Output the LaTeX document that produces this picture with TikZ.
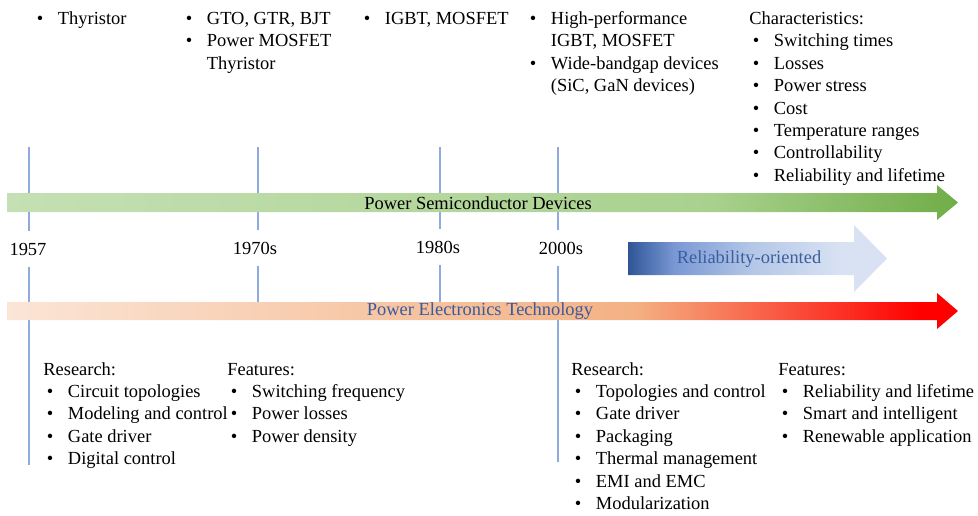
\documentclass[tikz,border=0pt]{standalone}
\usepackage{fontspec}
\setmainfont{Liberation Serif}
\usetikzlibrary{calc}
\definecolor{lineblue}{HTML}{8FAADC}
\definecolor{semilight}{HTML}{C5E0B4}
\definecolor{semimid}{HTML}{A9D18E}
\definecolor{semidark}{HTML}{70AD47}
\definecolor{relidark}{HTML}{2F5597}
\definecolor{relimid}{HTML}{7A98D4}
\definecolor{relipale}{HTML}{B4C7E7}
\definecolor{relilight}{HTML}{D8E2F3}
\definecolor{pelight}{HTML}{FBE5D6}
\definecolor{pemid}{HTML}{F4B183}
\definecolor{pedark}{HTML}{FF0000}
\definecolor{relitext}{HTML}{3C5D9E}
\definecolor{petext}{HTML}{3A5A9C}
\pgfdeclarehorizontalshading{semi bar}{100bp}{color(0bp)=(semilight); color(25bp)=(semilight); color(62bp)=(semimid); color(75bp)=(semidark); color(100bp)=(semidark)}
\pgfdeclarehorizontalshading{pe bar}{100bp}{color(0bp)=(pelight); color(25bp)=(pelight); color(58bp)=(pemid); color(73bp)=(pedark); color(100bp)=(pedark)}
\pgfdeclarehorizontalshading{reli bar}{100bp}{color(0bp)=(relidark); color(25bp)=(relidark); color(34bp)=(relimid); color(49bp)=(relipale); color(66bp)=(relilight); color(100bp)=(relilight)}
\newenvironment{dotlist}{\begin{tabular}[t]{@{\hspace{2pt}}p{12pt}@{}l@{}}}{\end{tabular}}
\newcommand{\dt}{\textbullet}
\tikzset{
  year line/.style={draw=lineblue,line width=0.6pt},
  year label/.style={fill=white,inner xsep=8pt,inner ysep=5pt,minimum height=20pt},
  note block/.style={anchor=base west,inner sep=0pt},
  bar label/.style={inner sep=1pt},
}

\begin{document}
\begin{tikzpicture}[x=0.02cm,y=-0.02cm,font=\fontsize{10.5pt}{12.75pt}\selectfont]
  \useasboundingbox (0,0) rectangle (978,515);
  % year ticks
  \coordinate (t1957) at (29,147);  \coordinate (b1957) at (29,465);
  \coordinate (t1970) at (258,147); \coordinate (b1970) at (258,302);
  \coordinate (t1980) at (440,147); \coordinate (b1980) at (440,302);
  \coordinate (t2000) at (558,147); \coordinate (b2000) at (558,462);
  \draw[year line] (t1957) -- (b1957);
  \draw[year line] (t1970) -- (b1970);
  \draw[year line] (t1980) -- (b1980);
  \draw[year line] (t2000) -- (b2000);
  % bars
  \shade[shading=semi bar] (7,193) -- (937,193) -- (937,185) -- (958,202.5)
    -- (937,220) -- (937,212) -- (7,212) -- cycle;
  \shade[shading=reli bar] (628,242) -- (854,242) -- (854,225) -- (887,258.5)
    -- (854,292) -- (854,275) -- (628,275) -- cycle;
  \shade[shading=pe bar] (7,302) -- (937,302) -- (937,293) -- (958,311)
    -- (937,329) -- (937,320) -- (7,320) -- cycle;
  \node[bar label] (semi) at (478,203) {Power Semiconductor Devices};
  \node[bar label,text=relitext] (reli) at (749,259) {Reliability-oriented};
  \node[bar label,text=petext] (pe) at (480,311) {Power Electronics Technology};
  % years
  \node[year label] (y1957) at (28,249) {1957};
  \node[year label] (y1970) at (255,248) {1970s};
  \node[year label] (y1980) at (438,247) {1980s};
  \node[year label] (y2000) at (561,248) {2000s};
  % devices
  \node[note block] (d1957) at (33,24.5) {\begin{dotlist}
    \dt & Thyristor
  \end{dotlist}};
  \node[note block] (d1970) at (182,24.5) {\begin{dotlist}
    \dt & GTO, GTR, BJT\\
    \dt & Power MOSFET\\
        & Thyristor
  \end{dotlist}};
  \node[note block] (d1980) at (360,24.5) {\begin{dotlist}
    \dt & IGBT, MOSFET
  \end{dotlist}};
  \node[note block] (d2000) at (526,24.5) {\begin{dotlist}
    \dt & High-performance\\
        & IGBT, MOSFET\\
    \dt & Wide-bandgap devices\\
        & (SiC, GaN devices)
  \end{dotlist}};
  \node[note block] (chars) at (749,24.5) {\begin{dotlist}
    \multicolumn{2}{@{}l@{}}{Characteristics:}\\
    \dt & Switching times\\
    \dt & Losses\\
    \dt & Power stress\\
    \dt & Cost\\
    \dt & Temperature ranges\\
    \dt & Controllability\\
    \dt & Reliability and lifetime
  \end{dotlist}};
  % technology
  \node[note block] (res1) at (43,375) {\begin{dotlist}
    \multicolumn{2}{@{}l@{}}{Research:}\\
    \dt & Circuit topologies\\
    \dt & Modeling and control\\
    \dt & Gate driver\\
    \dt & Digital control
  \end{dotlist}};
  \node[note block] (feat1) at (227,375) {\begin{dotlist}
    \multicolumn{2}{@{}l@{}}{Features:}\\
    \dt & Switching frequency\\
    \dt & Power losses\\
    \dt & Power density
  \end{dotlist}};
  \node[note block] (res2) at (571,375) {\begin{dotlist}
    \multicolumn{2}{@{}l@{}}{Research:}\\
    \dt & Topologies and control\\
    \dt & Gate driver\\
    \dt & Packaging\\
    \dt & Thermal management\\
    \dt & EMI and EMC\\
    \dt & Modularization
  \end{dotlist}};
  \node[note block] (feat2) at (778,375) {\begin{dotlist}
    \multicolumn{2}{@{}l@{}}{Features:}\\
    \dt & Reliability and lifetime\\
    \dt & Smart and intelligent\\
    \dt & Renewable application
  \end{dotlist}};
\end{tikzpicture}
\end{document}
